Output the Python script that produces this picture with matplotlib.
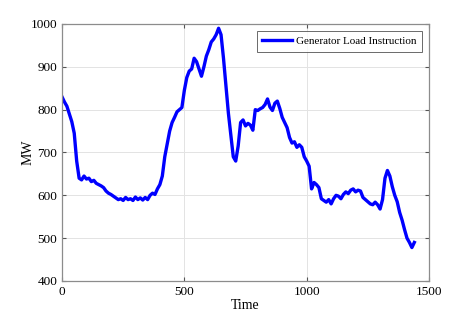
import numpy as np
import matplotlib.pyplot as plt

plt.rcParams['font.family'] = ['Liberation Serif', 'DejaVu Serif']

# generator load instruction, read every 10 time steps
time = np.arange(0, 1450, 10)
load = [830, 818, 808, 790, 772, 745, 680, 640, 636, 645,
        638, 640, 632, 635, 628, 625, 622, 618, 610, 605,
        602, 598, 594, 590, 592, 588, 595, 590, 592, 588,
        596, 590, 594, 589, 595, 590, 600, 605, 602, 615,
        625, 645, 690, 720, 750, 770, 782, 795, 800, 805,
        845, 875, 890, 895, 920, 912, 895, 878, 900, 925,
        940, 958, 965, 975, 990, 975, 920, 855, 792, 740,
        690, 680, 715, 770, 776, 762, 768, 764, 752, 800,
        798, 802, 805, 812, 825, 806, 798, 815, 820, 803,
        782, 770, 758, 735, 722, 725, 712, 718, 712, 690,
        680, 668, 615, 630, 625, 618, 592, 588, 584, 590,
        580, 592, 600, 598, 592, 602, 608, 604, 612, 615,
        608, 612, 610, 595, 590, 585, 580, 578, 584, 578,
        568, 590, 640, 658, 645, 620, 600, 585, 560, 542,
        520, 500, 490, 478, 490]
xticks = [0, 500, 1000, 1500]
yticks = [400, 500, 600, 700, 800, 900, 1000]

fig = plt.figure(figsize=(4.74, 3.16), dpi=100)
ax = fig.add_axes([0.1308, 0.1108, 0.7743, 0.8133])
ax.plot(time, load, color='#0000ff', lw=2.4, label='Generator Load Instruction')

ax.set_xlim(0, 1500)
ax.set_ylim(400, 1000)
ax.set_xticks(xticks)
ax.set_yticks(yticks)
ax.grid(True, color='#e3e3e3', lw=0.7)
ax.set_axisbelow(True)
ax.tick_params(direction='in', top=True, right=True, labelsize=9.5,
               color='#555555', length=3)
for s in ax.spines.values():
    s.set_color('#8c8c8c')
    s.set_linewidth(0.9)

ax.set_xlabel('Time', fontsize=10, labelpad=1)
ax.set_ylabel('MW', fontsize=10)
ax.yaxis.set_label_coords(-0.075, 0.5)

leg = ax.legend(loc='upper right', fontsize=8, fancybox=False,
                handlelength=2.7, borderpad=0.5, handletextpad=0.35,
                borderaxespad=0.6)
leg.get_frame().set_edgecolor('#444444')
leg.get_frame().set_linewidth(0.7)

fig.savefig('out.png', dpi=100)
